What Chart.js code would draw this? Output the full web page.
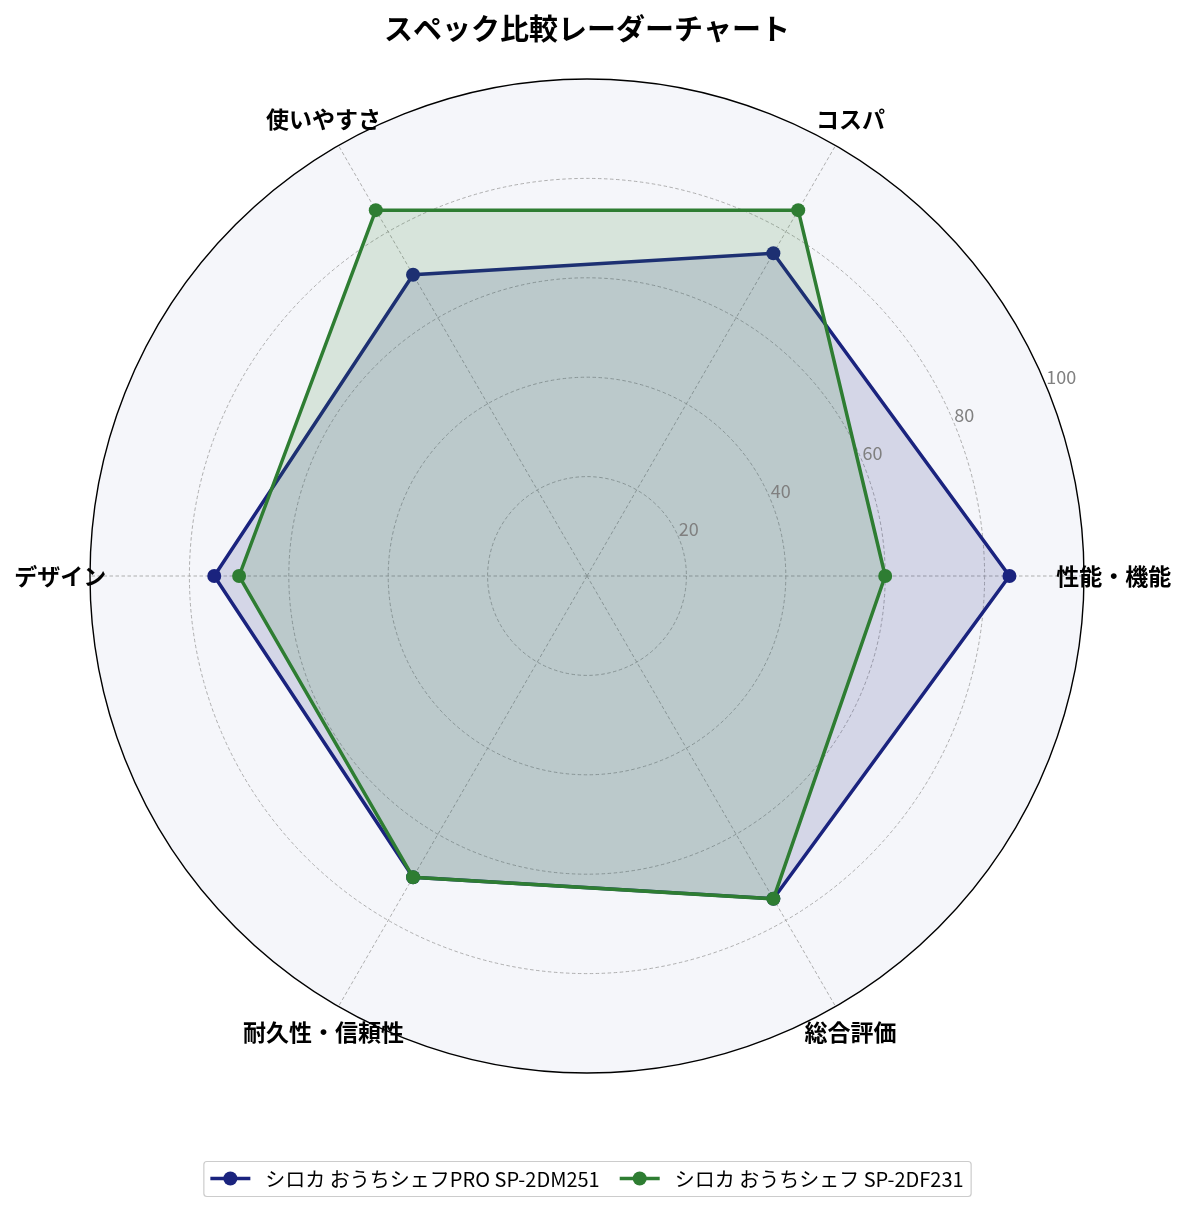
<!DOCTYPE html>
<html><head><meta charset="utf-8">
<script src="https://cdn.jsdelivr.net/npm/chart.js@4.4.0/dist/chart.umd.min.js"></script>
<style>html,body{margin:0;padding:0;background:#fff;}#wrap{width:1185px;height:1211px;position:relative;}</style>
</head><body><div id="wrap"><canvas id="c" width="1185" height="1211"></canvas></div>
<script>
const chartTitle = 'スペック比較レーダーチャート';
const categories = ['性能・機能', 'コスパ', '使いやすさ', 'デザイン', '耐久性・信頼性', '総合評価'];
const seriesNames = ['シロカ おうちシェフPRO SP-2DM251', 'シロカ おうちシェフ SP-2DF231'];
const proValues = [85, 75, 70, 75, 70, 75];
const stdValues = [60, 85, 85, 70, 70, 75];
const tickValues = [20, 40, 60, 80, 100];

const FONT = "'Noto Sans CJK JP', 'Noto Sans', sans-serif";
const COLORS = ['#1a237e', '#2e7d32'];
const FILLS = ['rgba(26,35,126,0.15)', 'rgba(46,125,50,0.15)'];

// Chart.js goes clockwise; reference goes counter-clockwise from the right
const displayOrder = [0, 5, 4, 3, 2, 1];
const reorder = arr => displayOrder.map(i => arr[i]);
const labels = reorder(categories);

const decor = {
  id: 'decor',
  afterDatasetsDraw(chart) {
    const ctx = chart.ctx, s = chart.scales.r;
    ctx.save();
    ctx.font = `18px ${FONT}`;
    ctx.fillStyle = '#808080';
    ctx.textAlign = 'left';
    ctx.textBaseline = 'bottom';
    const a = 22.5 * Math.PI / 180;
    tickValues.forEach(v => {
      const d = s.getDistanceFromCenterForValue(v);
      ctx.fillText(String(v), s.xCenter + d * Math.cos(a), s.yCenter - d * Math.sin(a));
    });
    ctx.restore();
  },
  afterDraw(chart) {
    const ctx = chart.ctx, s = chart.scales.r;
    ctx.save();
    // point labels
    ctx.font = `bold 23px ${FONT}`;
    ctx.fillStyle = '#000';
    ctx.textAlign = 'center';
    ctx.textBaseline = 'middle';
    labels.forEach((lab, i) => {
      const p = s.getPointPosition(i, s.getDistanceFromCenterForValue(106));
      ctx.fillText(lab, p.x, p.y);
    });
    // title
    ctx.font = `bold 29px ${FONT}`;
    ctx.fillText(chartTitle, s.xCenter, 29);
    // legend
    ctx.font = `20px ${FONT}`;
    const handle = 40, hpad = 15, gap = 20, pad = 7;
    const w0 = ctx.measureText(seriesNames[0]).width;
    const w1 = ctx.measureText(seriesNames[1]).width;
    const total = pad + handle + hpad + w0 + gap + handle + hpad + w1 + pad;
    const left = s.xCenter - total / 2;
    const top = 1161, h = 35, cy = top + h / 2;
    ctx.fillStyle = '#fff';
    ctx.strokeStyle = '#cccccc';
    ctx.lineWidth = 1.2;
    ctx.beginPath();
    ctx.roundRect(left + 0.5, top + 0.5, total, h, 3);
    ctx.fill();
    ctx.stroke();
    let x = left + pad;
    [w0, w1].forEach((w, k) => {
      ctx.strokeStyle = COLORS[k];
      ctx.lineWidth = 3.5;
      ctx.beginPath();
      ctx.moveTo(x, cy); ctx.lineTo(x + handle, cy); ctx.stroke();
      ctx.fillStyle = COLORS[k];
      ctx.beginPath(); ctx.arc(x + handle / 2, cy, 7, 0, Math.PI * 2); ctx.fill();
      ctx.fillStyle = '#000';
      ctx.textAlign = 'left';
      ctx.fillText(seriesNames[k], x + handle + hpad, cy + 1);
      x += handle + hpad + w + gap;
    });
    ctx.restore();
  }
};

new Chart(document.getElementById('c'), {
  type: 'radar',
  data: {
    labels: labels,
    datasets: [
      { label: seriesNames[0], data: reorder(proValues), borderColor: COLORS[0], backgroundColor: FILLS[0],
        pointBackgroundColor: COLORS[0], pointBorderColor: COLORS[0], borderWidth: 3.5, pointRadius: 7, pointBorderWidth: 0, fill: true, order: 2 },
      { label: seriesNames[1], data: reorder(stdValues), borderColor: COLORS[1], backgroundColor: FILLS[1],
        pointBackgroundColor: COLORS[1], pointBorderColor: COLORS[1], borderWidth: 3.5, pointRadius: 7, pointBorderWidth: 0, fill: true, order: 1 }
    ]
  },
  options: {
    responsive: false,
    animation: false,
    layout: { padding: { left: 90, right: 101, top: 79, bottom: 138 } },
    elements: { line: { tension: 0 } },
    plugins: { legend: { display: false }, title: { display: false }, tooltip: { enabled: false } },
    scales: {
      r: {
        min: 0, max: 100, startAngle: 90,
        ticks: { display: false, stepSize: 20 },
        pointLabels: { display: false },
        backgroundColor: '#f5f6fa',
        grid: { circular: true, color: c => c.index === 5 ? '#000000' : '#a6a6a6', lineWidth: c => c.index === 5 ? 1.4 : 0.9 },
        border: { dash: c => c.index === 5 ? [] : [3.5, 2.5] },
        angleLines: { color: '#a6a6a6', lineWidth: 0.9, borderDash: [3.5, 2.5] }
      }
    }
  },
  plugins: [decor]
});
</script></body></html>
